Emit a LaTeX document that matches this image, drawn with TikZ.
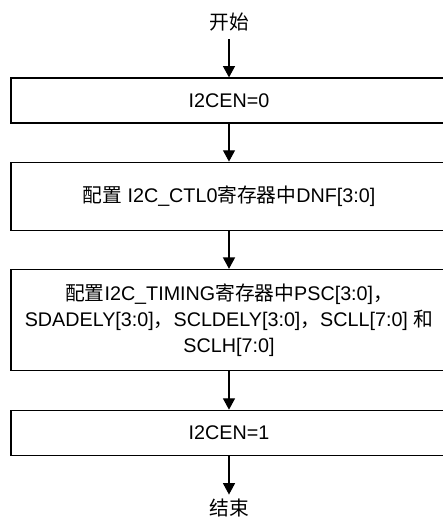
\documentclass[tikz,border=0pt]{standalone}
\usepackage{fontspec}
\setmainfont{Liberation Sans}
\newfontfamily\cjk{Noto Sans CJK SC}
\newcommand{\zh}[1]{{\cjk #1}}
\usetikzlibrary{positioning,arrows.meta}

\tikzset{
    procbox/.style={draw=black,line width=0.9pt,rectangle,minimum width=327pt,align=center,font=\fontsize{14.8}{19.5}\selectfont},
    termtext/.style={minimum height=25.5pt,inner sep=0pt,font=\fontsize{14.8}{19.5}\selectfont},
    flowarrow/.style={-{Triangle[width=9pt,length=8.5pt]},line width=0.9pt}
}

\begin{document}
\begin{tikzpicture}
        \useasboundingbox (0,0) rectangle (332.25pt,-389.25pt);
        \node[procbox,minimum height=33.75pt] (enoff) at (171.75pt,-75.375pt) {I2CEN=0};
        \node[termtext,above=28.5pt of enoff] (start) {\zh{开始}};
        \node[procbox,minimum height=51pt,below=28.5pt of enoff] (ctl) {\zh{配置} I2C\_CTL0\zh{寄存器中}DNF[3:0]};
        \node[procbox,minimum height=75.75pt,below=28.5pt of ctl] (timing) {\zh{配置}I2C\_TIMING\zh{寄存器中}PSC[3:0]\zh{，}\\
            SDADELY[3:0]\zh{，}SCLDELY[3:0]\zh{，}SCLL[7:0] \zh{和}\\
            SCLH[7:0]};
        \node[procbox,minimum height=33.75pt,below=29pt of timing] (enon) {I2CEN=1};
        \node[termtext,minimum height=20pt,below=29pt of enon] (finish) {\zh{结束}};
        % connectors
        \draw[flowarrow] (start) -- (enoff);
        \draw[flowarrow] (enoff) -- (ctl);
        \draw[flowarrow] (ctl) -- (timing);
        \draw[flowarrow] (timing) -- (enon);
        \draw[flowarrow] (enon) -- (finish);
    \end{tikzpicture}
\end{document}
